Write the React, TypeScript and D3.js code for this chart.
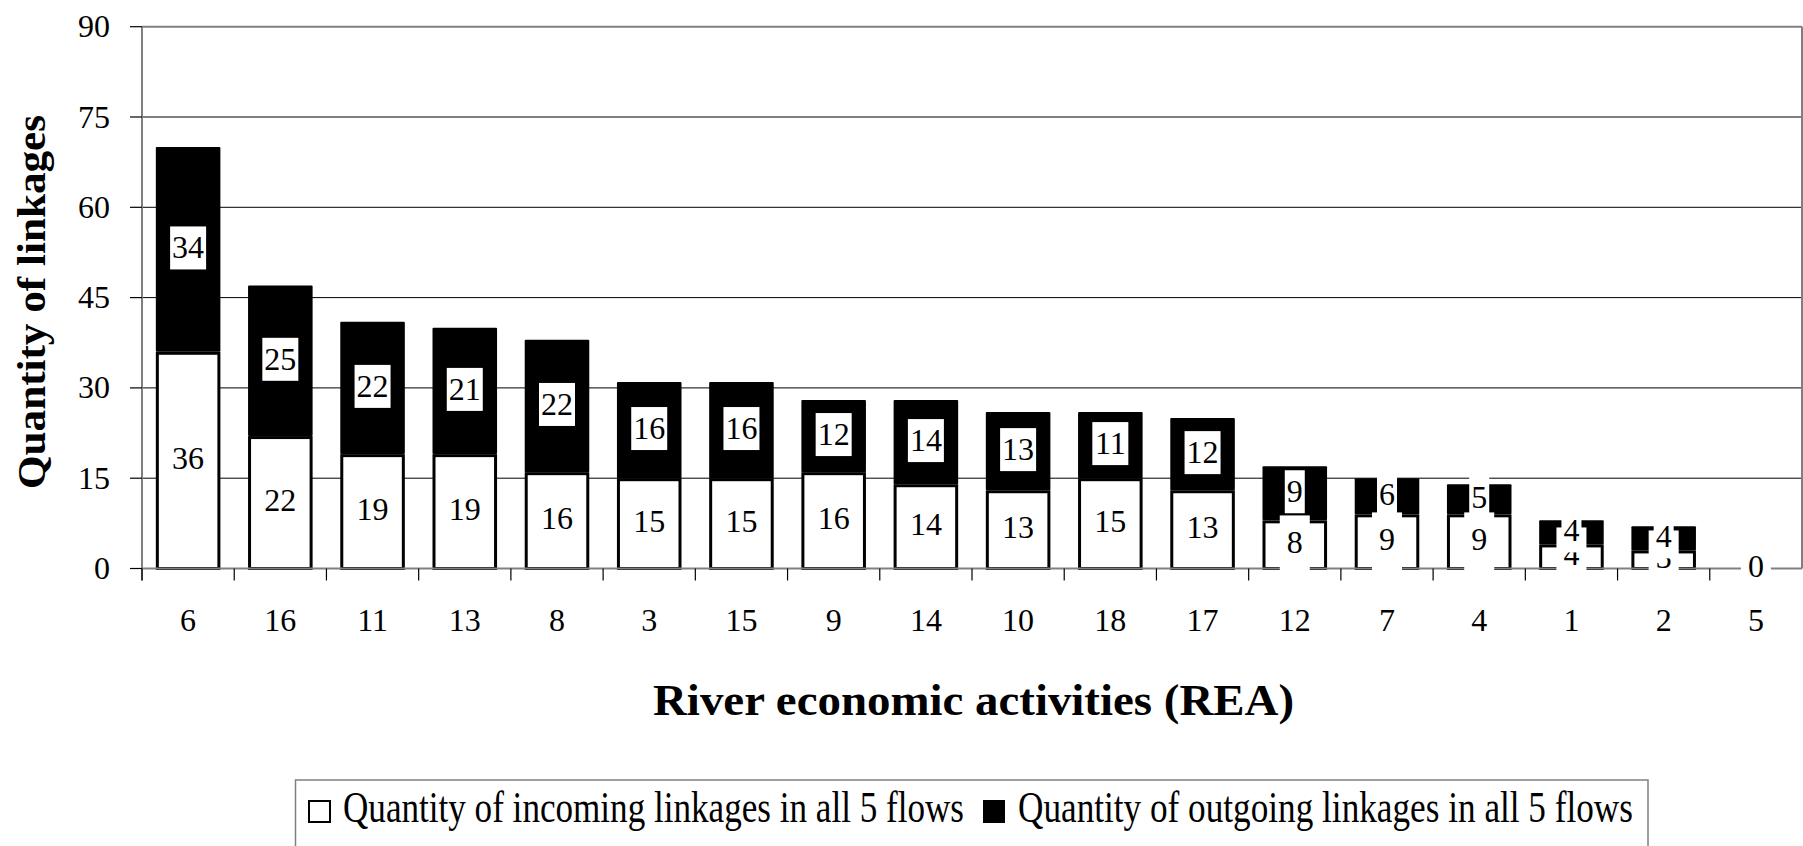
import React from "react";
import * as d3 from "d3";

const categories = ["6", "16", "11", "13", "8", "3", "15", "9", "14", "10", "18", "17", "12", "7", "4", "1", "2", "5"];
const incoming = [36, 22, 19, 19, 16, 15, 15, 16, 14, 13, 15, 13, 8, 9, 9, 4, 3, 0];
const outgoing = [34, 25, 22, 21, 22, 16, 16, 12, 14, 13, 11, 12, 9, 6, 5, 4, 4, 0];
const yTicks = [0, 15, 30, 45, 60, 75, 90];
const yTitle = "Quantity of linkages";
const xTitle = "River economic activities (REA)";
const legendLabels = ["Quantity of incoming linkages in all 5 flows", "Quantity of outgoing linkages in all 5 flows"];

const W = 1803;
const H = 846;
const left = 142;
const right = 1802;
const top = 26.7;
const bottom = 568.5;
const FONT = "'Liberation Serif', 'Times New Roman', serif";

export default function App() {
  const x = d3.scaleBand<string>().domain(categories).range([left, right]).paddingInner(0.3).paddingOuter(0.15);
  const y = d3.scaleLinear().domain([0, 90]).range([bottom, top]);
  const bw = x.bandwidth();
  const step = x.step();
  const boundaries = categories.map((c) => (x(c) as number) - step * 0.15);

  const digitW = 16;

  return (
    <svg width={W} height={H} style={{ position: "fixed", left: 0, top: 0, background: "#fff" }} fontFamily={FONT}>
      <rect x={0} y={0} width={W} height={H} fill="#fff" />
      {/* gridlines */}
      {yTicks.filter((t) => t > 0 && t < 90).map((t) => (
        <line key={"g" + t} x1={left} x2={right} y1={y(t)} y2={y(t)} stroke="#000" strokeWidth={1} />
      ))}
      {/* bars */}
      {categories.map((c, i) => {
        const bx = x(c) as number;
        const inc = incoming[i];
        const out = outgoing[i];
        const tot = inc + out;
        return (
          <g key={"b" + c}>
            {out > 0 && (
              <rect x={bx} y={y(tot)} width={bw} height={y(inc) - y(tot)} fill="#000" rx={1} />
            )}
            {inc > 0 && (
              <rect x={bx + 1.5} y={y(inc) + 1.5} width={bw - 3} height={y(0) - y(inc) - 1.5} fill="#fff" stroke="#000" strokeWidth={3} />
            )}
          </g>
        );
      })}
      {/* plot border / axes */}
      <line x1={left} x2={right} y1={y(90)} y2={y(90)} stroke="#808080" strokeWidth={2} />
      <line x1={right} x2={right} y1={y(90)} y2={y(0)} stroke="#808080" strokeWidth={2} />
      <line x1={left} x2={left} y1={y(90)} y2={y(0) + 12} stroke="#808080" strokeWidth={2} />
      <line x1={left} x2={right} y1={y(0)} y2={y(0)} stroke="#808080" strokeWidth={2} />
      {yTicks.map((t) => (
        <g key={"yt" + t}>
          <line x1={left - 12} x2={left} y1={y(t)} y2={y(t)} stroke="#000" strokeWidth={1.2} />
          <text x={110} y={y(t)} dy="0.33em" textAnchor="end" fontSize={32} fill="#000">{t}</text>
        </g>
      ))}
      {boundaries.map((bx, i) => (
        <line key={"xt" + i} x1={bx} x2={bx} y1={y(0)} y2={y(0) + 12} stroke="#000" strokeWidth={1.2} />
      ))}
      {categories.map((c) => (
        <text key={"xl" + c} x={(x(c) as number) + bw / 2} y={631} textAnchor="middle" fontSize={32} fill="#000">{c}</text>
      ))}
      {/* incoming labels */}
      {categories.map((c, i) => {
        const cx = (x(c) as number) + bw / 2;
        const cy = y(incoming[i] / 2);
        const s = String(incoming[i]);
        const tw = s.length * digitW + 14;
        return (
          <g key={"il" + c}>
            <rect x={cx - tw / 2} y={cy - 29} width={tw} height={58} fill="#fff" />
            <text x={cx} y={cy} dy="0.28em" textAnchor="middle" fontSize={32} fill="#000">{s}</text>
          </g>
        );
      })}
      {/* outgoing labels */}
      {categories.map((c, i) => {
        const cx = (x(c) as number) + bw / 2;
        const cy = y(incoming[i] + outgoing[i] / 2);
        const s = String(outgoing[i]);
        const tw = s.length * digitW + 4;
        return (
          <g key={"ol" + c}>
            <rect x={cx - tw / 2} y={cy - 23} width={tw} height={43} fill="#fff" />
            <text x={cx} y={cy} dy="0.28em" textAnchor="middle" fontSize={32} fill="#000">{s}</text>
          </g>
        );
      })}
      {/* axis titles */}
      <text transform="translate(45,302) rotate(-90)" textAnchor="middle" fontSize={40} fontWeight="bold" textLength={374} lengthAdjust="spacingAndGlyphs" fill="#000">{yTitle}</text>
      <text x={973.5} y={715} textAnchor="middle" fontSize={45} fontWeight="bold" textLength={641} lengthAdjust="spacingAndGlyphs" fill="#000">{xTitle}</text>
      {/* legend */}
      <rect x={295.5} y={780} width={1352.5} height={70} fill="#fff" stroke="#808080" strokeWidth={1.5} />
      <rect x={309} y={801} width={21} height={21} fill="#fff" stroke="#000" strokeWidth={2} />
      <text x={343} y={821.7} fontSize={44} textLength={621} lengthAdjust="spacingAndGlyphs" fill="#000">{legendLabels[0]}</text>
      <rect x={983} y={800} width={22} height={23} fill="#000" />
      <text x={1018} y={821.7} fontSize={44} textLength={615} lengthAdjust="spacingAndGlyphs" fill="#000">{legendLabels[1]}</text>
    </svg>
  );
}
